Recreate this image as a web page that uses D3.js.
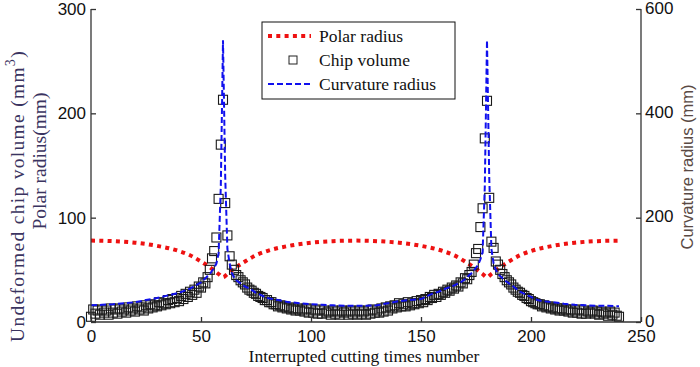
<!DOCTYPE html>
<html>
<head>
<meta charset="utf-8">
<script src="https://cdn.jsdelivr.net/npm/d3@7"></script>
<style>
body{margin:0;background:#fff}
svg{display:block}
.tk text{font-family:"Liberation Sans",Arial,sans-serif;font-size:17px;fill:#111}
.tk path,.tk line{stroke:#333;stroke-width:1.3px}
</style>
</head>
<body>
<svg id="chart" width="700" height="367"></svg>
<script>
// polar radius (mm), left axis
var polarX = [0,10,20,30,40,45,50,55,58,60,62,65,70,75,80,90,100,110,120,130,140,150,160,165,170,175,178,180,182,185,190,195,200,210,220,230,240]
var polarR = [78,77.5,76,73,68,64,58,51,46,43,46,51,58,64,68,73,76,77.5,78,77.5,76,73,68,64,58,51,46,43,46,51,58,64,68,73,76,77.5,78]

// curvature radius (mm), right axis
var curvX = [0,5,10,15,20,25,30,35,40,45,50,52,54,56,57,58,59,60,61,62,63,64,65,66,68,70,72,75,80,85,90,95,100,105,110,115,120,125,130,135,140,145,150,153,155,158,160,165,168,170,173,175,176,177,178,179,180,181,182,183,184,185,188,190,192,195,200,203,205,210,215,220,225,230,235,240]
var curvR = [32,33,34,36,38,42,46,51,56,64,76,84,92,104,112,132,260,540,280,140,112,94,86,80,74,68,64,56,46,42,38,36,34,33,32,31,31,31,32,36,40,42,44,50,54,58,62,70,76,82,94,104,110,120,134,260,540,280,140,112,100,92,80,74,68,58,48,42,40,38,35,33,32,31,31,30]

// undeformed chip volume (mm3), one per cutting number 0..240, left axis
var chipVol = [
  5,12,8,11,7,12,9,11,7,13,
  9,12,8,13,10,12,9,14,11,13,
  10,15,12,14,11,16,13,17,14,16,
  15,19,16,18,17,21,18,22,19,23,
  20,25,22,27,24,29,26,31,28,34,
  33,38,37,43,50,61,68,81,118,170,
  213,114,83,63,55,50,45,43,40,38,
  36,33,31,30,28,27,25,24,23,21,
  21,19,19,17,17,15,16,14,15,13,
  14,12,13,11,13,11,12,10,13,9,
  12,9,11,8,12,8,11,9,10,7,
  11,8,10,7,11,9,10,7,11,8,
  10,7,11,8,10,7,11,8,12,9,
  11,9,13,10,14,11,15,13,16,14,
  18,15,17,15,19,16,18,17,20,18,
  21,19,22,21,24,23,26,24,27,26,
  29,28,31,30,33,32,35,34,38,37,
  42,41,45,48,55,66,70,91,109,176,
  212,119,77,71,58,55,50,46,43,40,
  38,36,33,31,29,28,26,25,23,22,
  20,19,18,17,17,15,16,14,15,13,
  14,12,13,11,13,11,12,10,12,9,
  11,9,12,8,11,8,10,9,11,8,
  10,7,10,8,9,6,10,7,9,6,
  5]

var xTicks = [0,50,100,150,200,250]
var leftTicks = [0,100,200,300]
var rightTicks = [0,200,400,600]
var legendNames = ["Polar radius","Chip volume","Curvature radius"]

var svg = d3.select("#chart")
var x = d3.scaleLinear().domain([0,250]).range([91,641])
var yL = d3.scaleLinear().domain([0,300]).range([322,9])
var yR = d3.scaleLinear().domain([0,600]).range([322,9])
var serif = '"Liberation Serif","Times New Roman",serif'
var sans = '"Liberation Sans",Arial,sans-serif'

// polar radius
var polarLine = d3.line().x(function(d,i){return x(polarX[i])}).y(function(d){return yL(d)}).curve(d3.curveMonotoneX)
svg.append("path").attr("d", polarLine(polarR))
  .attr("fill","none").attr("stroke","#ee1111").attr("stroke-width",4).attr("stroke-dasharray","4,4.3")

// chip volume squares
var sq = 9
svg.selectAll("rect.chip").data(chipVol).enter().append("rect")
  .attr("class","chip")
  .attr("x", function(d,i){return x(i)-sq/2})
  .attr("y", function(d){return yL(d)-sq/2})
  .attr("width",sq).attr("height",sq)
  .attr("fill","none").attr("stroke","#1a1a1a").attr("stroke-width",1.1)

// curvature radius
var curvLine = d3.line().x(function(d,i){return x(curvX[i])}).y(function(d){return yR(d)})
svg.append("path").attr("d", curvLine(curvR))
  .attr("fill","none").attr("stroke","#1010ee").attr("stroke-width",2).attr("stroke-dasharray","6,3")

// axes, ticks inside
svg.append("g").attr("class","tk").attr("transform","translate(0,322)")
  .call(d3.axisBottom(x).tickValues(xTicks).tickSizeInner(-5).tickSizeOuter(0).tickPadding(8))
svg.append("g").attr("class","tk").attr("transform","translate(91,0)")
  .call(d3.axisLeft(yL).tickValues(leftTicks).tickSizeInner(-5).tickSizeOuter(0).tickPadding(5))
svg.append("g").attr("class","tk").attr("transform","translate(641,0)")
  .call(d3.axisRight(yR).tickValues(rightTicks).tickSizeInner(-5).tickSizeOuter(0).tickPadding(4))
  .selectAll("text").attr("dy","0.25em")
svg.selectAll(".tk .domain").attr("d", function(){
  return d3.select(this.parentNode).attr("transform")=="translate(0,322)" ? "M91,0H641" : "M0,9V322"
})

// axis labels
svg.append("text").attr("x",364).attr("y",362).attr("text-anchor","middle")
  .style("font-family",serif).style("font-size","17.5px").style("fill","#111")
  .text("Interrupted cutting times number")

var l1 = svg.append("text").attr("transform","translate(24,196) rotate(-90)").attr("text-anchor","middle")
  .style("font-family",serif).style("font-size","19.5px").style("fill","#3a3360").style("letter-spacing","1.3px")
l1.append("tspan").text("Undeformed chip volume (mm")
l1.append("tspan").attr("dy",-9).style("font-size","14px").text("3")
l1.append("tspan").attr("dy",9).text(")")

svg.append("text").attr("transform","translate(46,161) rotate(-90)").attr("text-anchor","middle")
  .style("font-family",serif).style("font-size","19.5px").style("fill","#3a3360")
  .text("Polar radius(mm)")

svg.append("text").attr("transform","translate(693,167) rotate(-90)").attr("text-anchor","middle")
  .style("font-family",sans).style("font-size","16.5px").style("fill","#5a4a44")
  .text("Curvature radius (mm)")

// legend
var lg = svg.append("g")
lg.append("rect").attr("x",262).attr("y",22).attr("width",193).attr("height",77)
  .attr("fill","#fff").attr("stroke","#111").attr("stroke-width",1)
var rows = [36,60,84]
lg.append("line").attr("x1",268).attr("x2",311).attr("y1",rows[0]).attr("y2",rows[0])
  .attr("stroke","#ee1111").attr("stroke-width",4).attr("stroke-dasharray","4,4.3")
lg.append("rect").attr("x",293-4).attr("y",rows[1]-4).attr("width",8).attr("height",8)
  .attr("fill","none").attr("stroke","#222")
lg.append("line").attr("x1",268).attr("x2",311).attr("y1",rows[2]).attr("y2",rows[2])
  .attr("stroke","#1010ee").attr("stroke-width",2).attr("stroke-dasharray","6,3")
lg.selectAll("text").data(legendNames).enter().append("text")
  .attr("x",319).attr("y",function(d,i){return rows[i]+6})
  .style("font-family",serif).style("font-size","17.5px").style("fill","#111")
  .text(function(d){return d})
</script>
</body>
</html>
